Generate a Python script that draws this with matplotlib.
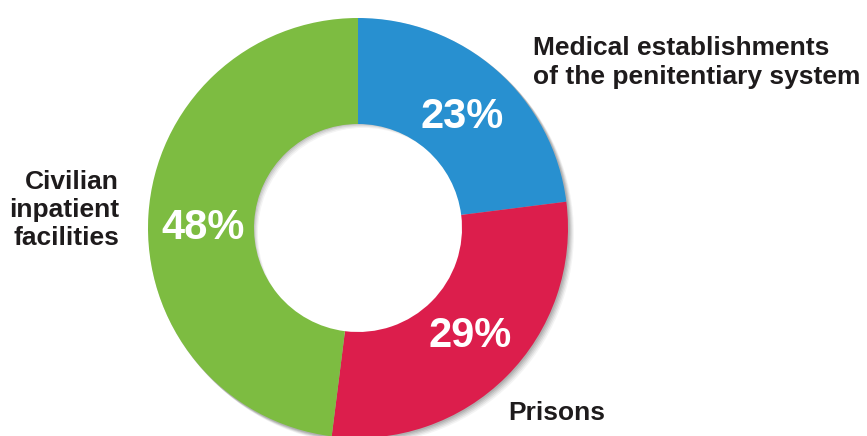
import matplotlib.pyplot as plt
from matplotlib.patches import Wedge

# data
categories = ["Medical establishments\nof the penitentiary system", "Prisons",
              "Civilian\ninpatient\nfacilities"]
shares = [23, 29, 48]
colors = ["#2890d0", "#dc1e4c", "#7dbc41"]

fig = plt.figure(figsize=(8.67, 4.36), dpi=100)
ax = fig.add_axes([0, 0, 1, 1])

cx, cy, r = 358, 208, 210
width = 106

# soft drop shadow under the ring
for i, a in enumerate([0.14, 0.12, 0.10, 0.08, 0.06]):
    d = 1.0 + i * 1.1
    ax.add_patch(Wedge((cx + d, cy - d), r + 0.5, 0, 360, width=width - 1,
                       facecolor="#444444", edgecolor="none", alpha=a, zorder=1))

wedges, _ = ax.pie(shares, colors=colors, startangle=90, counterclock=False,
                   center=(cx, cy), radius=r, frame=True,
                   wedgeprops=dict(width=width, edgecolor="none", zorder=2))
ax.set_xlim(0, 867)
ax.set_ylim(0, 436)
ax.set_aspect("equal")
ax.axis("off")

# percent labels inside the ring
pct_pos = [(462, 436 - 117), (470, 436 - 336), (203, 436 - 228)]
for (x, y), s in zip(pct_pos, shares):
    ax.text(x, y, f"{s}%", color="white", fontsize=30, fontweight="bold",
            family="Liberation Sans", ha="center", va="center", zorder=3)

# category labels
ax.text(533, 436 - 36, categories[0], fontsize=19, fontweight="bold",
        family="Liberation Sans", color="#1e1b1c", ha="left", va="top",
        linespacing=1.25, zorder=3)
ax.text(508, 436 - 413, categories[1], fontsize=19, fontweight="bold",
        family="Liberation Sans", color="#1e1b1c", ha="left", va="center", zorder=3)
ax.text(119, 436 - 210, categories[2], fontsize=19, fontweight="bold",
        family="Liberation Sans", color="#1e1b1c", ha="right", va="center",
        linespacing=1.22, zorder=3)

fig.savefig("out.png", dpi=100)
